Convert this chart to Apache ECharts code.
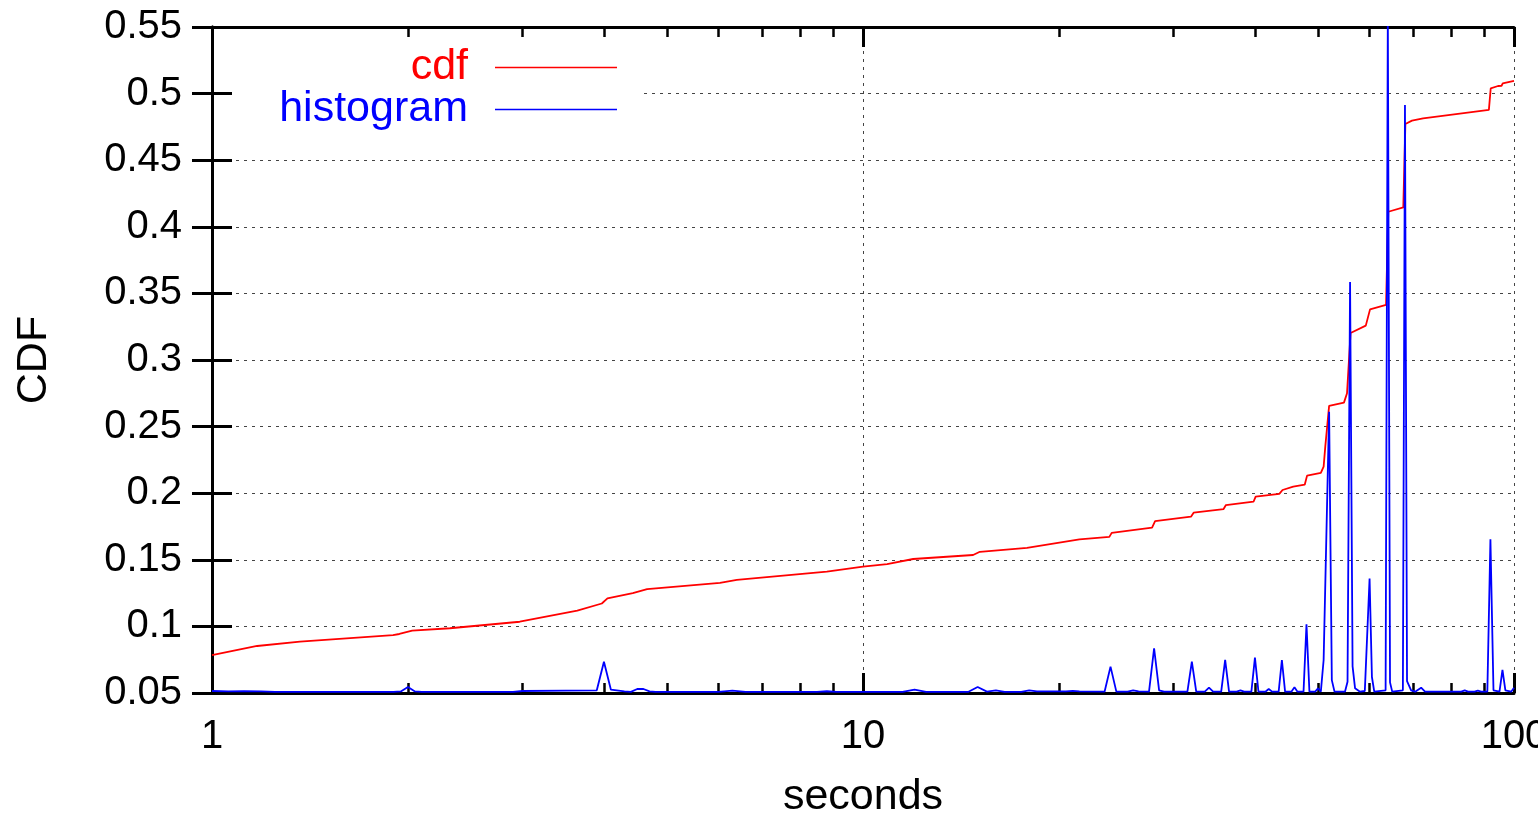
<!DOCTYPE html>
<html><head><meta charset="utf-8">
<script src="https://cdn.jsdelivr.net/npm/echarts@6/dist/echarts.min.js"></script>
<style>html,body{margin:0;padding:0;background:#fff}#c{width:1538px;height:820px}</style>
</head><body><div id="c"></div>
<script>
// ---- data ----
const cdfSeconds = [1.0, 1.173, 1.365, 1.897, 1.94, 2.03, 2.32, 2.97, 3.64, 3.97, 4.05, 4.43, 4.66, 6.03, 6.4, 8.8, 10, 10.89, 11.94, 14.76, 15.12, 17.86, 21.5, 23.9, 24.1, 27.8, 28.1, 31.9, 32.2, 35.8, 36.1, 39.8, 40.1, 43.6, 44.1, 45.8, 47.7, 48.1, 50.5, 51.0, 51.3, 52.0, 54.8, 55.4, 56.1, 59.2, 60.1, 63.6, 64.1, 67.6, 68.1, 69.7, 72.5, 91.5, 92.1, 94.5, 95.7, 96.1, 100];
const cdfValues  = [0.0785, 0.0853, 0.0886, 0.0935, 0.0943, 0.0968, 0.0986, 0.1035, 0.1118, 0.1172, 0.121, 0.125, 0.128, 0.1326, 0.1349, 0.1411, 0.1448, 0.1468, 0.1506, 0.1536, 0.156, 0.159, 0.1654, 0.1672, 0.1702, 0.1742, 0.179, 0.1824, 0.1854, 0.1881, 0.1911, 0.1936, 0.1974, 0.1995, 0.2024, 0.205, 0.2064, 0.2132, 0.2152, 0.22, 0.235, 0.2655, 0.268, 0.275, 0.3203, 0.3258, 0.338, 0.3413, 0.4113, 0.4145, 0.4772, 0.4797, 0.4814, 0.4878, 0.504, 0.5057, 0.5059, 0.5077, 0.5095];

const histSeconds = [1.0, 1.06, 1.12, 1.19, 1.25, 1.9, 1.95, 2.0, 2.05, 2.1, 2.9, 3.0, 3.5, 3.9, 4.0, 4.1, 4.3, 4.4, 4.5, 4.6, 4.7, 4.8, 6.0, 6.3, 6.6, 8.5, 8.8, 9.1, 11.5, 12, 12.5, 14.5, 15, 15.5, 16, 16.5, 17.5, 18, 18.5, 20.5, 21, 21.5, 23.5, 24, 24.5, 25.5, 26, 26.5, 27.5, 28, 28.5, 29, 31.5, 32, 32.5, 33.5, 34, 34.5, 35.5, 36, 36.5, 37.5, 38, 38.5, 39.5, 40, 40.5, 41.5, 42, 42.5, 43.5, 44, 44.5, 45.5, 46, 46.5, 47.5, 48, 48.5, 49.5, 50, 50.5, 51, 52, 52.5, 53, 55, 55.5, 56, 56.5, 57, 58, 59, 60, 60.5, 61, 63.5, 64, 64.5, 65, 67.5, 68, 68.5, 69.5, 70.5, 72, 73, 83, 84, 85, 87, 88, 89, 91, 92, 93, 95, 96, 97, 99, 100];
const histValues  = [0.0515, 0.0512, 0.0514, 0.0512, 0.0508, 0.0508, 0.0512, 0.0545, 0.0512, 0.0508, 0.0508, 0.0515, 0.0518, 0.052, 0.0735, 0.0525, 0.0512, 0.0508, 0.053, 0.053, 0.0512, 0.0508, 0.0508, 0.0518, 0.0508, 0.0508, 0.0513, 0.0508, 0.0508, 0.0525, 0.0508, 0.0508, 0.0545, 0.051, 0.052, 0.0508, 0.0508, 0.052, 0.0512, 0.0512, 0.0516, 0.0512, 0.051, 0.0698, 0.051, 0.051, 0.052, 0.0512, 0.051, 0.0836, 0.052, 0.051, 0.051, 0.0735, 0.051, 0.051, 0.054, 0.051, 0.051, 0.0748, 0.051, 0.051, 0.052, 0.051, 0.051, 0.0765, 0.051, 0.051, 0.053, 0.051, 0.051, 0.0748, 0.051, 0.051, 0.0543, 0.051, 0.051, 0.1016, 0.051, 0.051, 0.0535, 0.051, 0.0748, 0.2612, 0.0597, 0.051, 0.051, 0.0585, 0.3586, 0.07, 0.0535, 0.051, 0.0515, 0.136, 0.062, 0.051, 0.052, 0.56, 0.058, 0.051, 0.052, 0.4914, 0.0589, 0.052, 0.051, 0.054, 0.051, 0.051, 0.052, 0.051, 0.051, 0.0518, 0.051, 0.051, 0.1654, 0.052, 0.051, 0.0673, 0.052, 0.051, 0.054];

const xRange = [1, 100];
const xMinorTicks = [2, 3, 4, 5, 6, 7, 8, 9, 20, 30, 40, 50, 60, 70, 80, 90];
const yRange = [0.05, 0.55];
const yStep = 0.05;
const seriesNames = ['cdf', 'histogram'];
const seriesColors = ['#ff0000', '#0000ff'];

// ---- chart ----
const FONT = "'Liberation Sans', Arial, Helvetica, sans-serif";
const TICK_FS = 40, TEXT_FS = 43;
const pairs = (xs, ys) => xs.map((x, i) => [x, ys[i]]);
const minorLog = xMinorTicks.map(v => Math.log10(v));
const logExtent = [Math.log10(xRange[0]), Math.log10(xRange[1])];

const black = '#000';
const gridLine = { show: true, lineStyle: { color: '#444', width: 1, type: [3, 5] } };
const LINE_ICON = 'path://M0,0L100,0L100,1.4L0,1.4Z';

function legendFor(i, top) {
  return {
    data: [{ name: seriesNames[i], textStyle: { color: seriesColors[i] } }],
    orient: 'vertical', align: 'right', right: 921, top: top, padding: 0,
    itemWidth: 122, itemHeight: 44, icon: LINE_ICON, symbolKeepAspect: true,
    itemStyle: { color: seriesColors[i] },
    textStyle: { fontSize: TEXT_FS, fontFamily: FONT, padding: [0, 22, 0, 0] },
    selectedMode: false
  };
}

const chart = echarts.init(document.getElementById('c'), null, { renderer: 'canvas' });
chart.setOption({
  animation: false,
  backgroundColor: '#fff',
  textStyle: { fontFamily: FONT },
  grid: { left: 212, right: 24, top: 27, bottom: 127, containLabel: false, outerBoundsMode: 'none' },
  graphic: [{
    type: 'rect', z: 1, silent: true,
    shape: { x: 235, y: 40, width: 407, height: 94 },
    style: { fill: '#fff' }
  }],
  legend: [legendFor(0, 46), legendFor(1, 88)],
  xAxis: [
    {
      type: 'log', logBase: 10, min: xRange[0], max: xRange[1], position: 'bottom',
      name: 'seconds', nameLocation: 'middle', nameGap: 83,
      nameTextStyle: { fontSize: TEXT_FS, color: black, fontFamily: FONT },
      axisLine: { show: true, lineStyle: { color: black, width: 3 } },
      axisTick: { show: true, inside: true, length: 20, lineStyle: { color: black, width: 3 } },
      axisLabel: { show: true, fontSize: TICK_FS, color: black, margin: 24, fontFamily: FONT,
                   showMinLabel: true, showMaxLabel: true, hideOverlap: false },
      splitLine: gridLine,
      minorTick: { show: false }
    },
    {
      type: 'log', logBase: 10, min: xRange[0], max: xRange[1], position: 'top',
      axisLine: { show: true, lineStyle: { color: black, width: 3 } },
      axisTick: { show: true, inside: true, length: 20, lineStyle: { color: black, width: 3 } },
      axisLabel: { show: false }, splitLine: { show: false }
    },
    {
      type: 'value', min: logExtent[0], max: logExtent[1], position: 'bottom',
      axisLine: { show: false },
      axisTick: { show: true, inside: true, length: 10, customValues: minorLog,
                  lineStyle: { color: black, width: 2.5 } },
      axisLabel: { show: false }, splitLine: { show: false }
    },
    {
      type: 'value', min: logExtent[0], max: logExtent[1], position: 'top',
      axisLine: { show: false },
      axisTick: { show: true, inside: true, length: 10, customValues: minorLog,
                  lineStyle: { color: black, width: 2.5 } },
      axisLabel: { show: false }, splitLine: { show: false }
    }
  ],
  yAxis: [
    {
      type: 'value', min: yRange[0], max: yRange[1], interval: yStep, position: 'left',
      name: 'CDF', nameLocation: 'middle', nameGap: 156, nameRotate: 90,
      nameTextStyle: { fontSize: TEXT_FS, color: black, fontFamily: FONT },
      axisLine: { show: true, lineStyle: { color: black, width: 3 } },
      axisTick: { show: true, inside: true, length: 20, lineStyle: { color: black, width: 3 } },
      axisLabel: { show: true, fontSize: TICK_FS, color: black, margin: 30, fontFamily: FONT,
                   formatter: v => String(+v.toFixed(2)) },
      splitLine: gridLine
    },
    {
      type: 'value', min: yRange[0], max: yRange[1], interval: yStep, position: 'right',
      axisLine: { show: true, lineStyle: { color: black, width: 3 } },
      axisTick: { show: true, inside: true, length: 20, lineStyle: { color: black, width: 3 } },
      axisLabel: { show: false }, splitLine: { show: false }
    }
  ],
  series: [
    {
      name: seriesNames[0], type: 'line', xAxisIndex: 0, yAxisIndex: 0,
      data: pairs(cdfSeconds, cdfValues), symbol: 'none', clip: true, z: 3,
      lineStyle: { color: seriesColors[0], width: 1.8 }, itemStyle: { color: seriesColors[0] }
    },
    {
      name: seriesNames[1], type: 'line', xAxisIndex: 0, yAxisIndex: 0,
      data: pairs(histSeconds, histValues), symbol: 'none', clip: true, z: 4,
      lineStyle: { color: seriesColors[1], width: 1.8 }, itemStyle: { color: seriesColors[1] }
    }
  ]
});
</script></body></html>
